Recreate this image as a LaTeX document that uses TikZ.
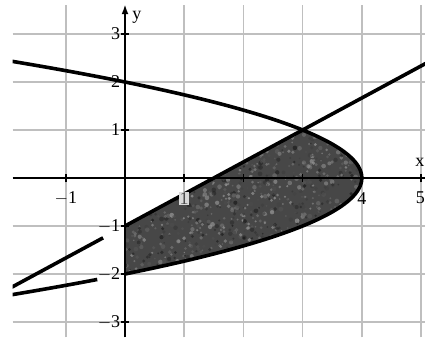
\documentclass[tikz,border=0pt]{standalone}
\usepackage{fontspec}
\setmainfont{Liberation Serif}
\usetikzlibrary{arrows.meta}
\begin{document}
\begin{tikzpicture}[x=59.2pt,y=48pt,
  gridline/.style={draw=black!25, line width=1.6pt},
  axisline/.style={line width=2.2pt},
  curve/.style={line width=3.6pt},
  lbl/.style={font=\fontsize{18}{18}\selectfont, inner sep=1pt},
  tck/.style={line width=1.6pt}]
\useasboundingbox (-2.1115,-3.3125) rectangle (5.0676,3.7083);
% grid
\foreach \i in {-1,1,2,3,4,5} \draw[gridline] (\i,-3.32) -- (\i,3.6);
\foreach \j in {-3,-2,-1,1,2,3} \draw[gridline] (-1.9,\j) -- (5.07,\j);
% shaded region
\begin{scope}
\clip (0,-1) -- (3,1) -- plot[domain=1:-2,samples=60,smooth] ({4-\x*\x},\x) -- cycle;
\fill[black!72] (-0.1,-2.1) rectangle (4.1,1.1);
\pgfmathsetseed{7}
\foreach \k in {1,...,1400} {
  \pgfmathsetmacro{\px}{4.1*rnd}
  \pgfmathsetmacro{\py}{-2.1+3.2*rnd}
  \pgfmathsetmacro{\pc}{30+65*rnd}
  \pgfmathsetmacro{\pr}{0.8+1.6*rnd}
  \fill[black!\pc, opacity=0.55] (\px,\py) circle[radius=\pr pt];
}
\end{scope}
% axes
\coordinate (xl) at (-1.9,0);
\coordinate (xr) at (5.07,0);
\coordinate (yb) at (0,-3.32);
\coordinate (yt) at (0,3.62);
\draw[axisline] (xl) -- (xr);
\draw[axisline,-{Latex[length=10pt,width=7pt]}] (yb) -- (yt);
\foreach \i in {-1,1,2,3,4,5} \draw[tck] (\i,-0.09) -- (\i,0.09);
\foreach \j in {-3,-2,-1,1,2,3} \draw[tck] (-0.075,\j) -- (0.075,\j);
% curves
\begin{scope}
\clip (-1.9,-3.4) rectangle (5.1,3.8);
\draw[curve] plot[domain=-2.0:-0.37,samples=2] (\x,{2*\x/3-1});
\draw[curve] plot[domain=0:5.1,samples=2] (\x,{2*\x/3-1});
\draw[curve] plot[domain=2.46:-2,samples=120,smooth] ({4-\x*\x},\x);
\draw[curve] plot[domain=-2.114:-2.46,samples=30,smooth] ({4-\x*\x},\x);
\end{scope}
% labels
\node[lbl] (xm1) at (-1,-0.42) {$-$1};
\node[lbl,fill=black!15,text=black!70,inner sep=0.5pt] (x1) at (1,-0.42) {1};
\node[lbl] (x4) at (4,-0.42) {4};
\node[lbl] (x5) at (4.99,-0.42) {5};
\node[lbl,anchor=east] (y3) at (-0.06,3) {3};
\node[lbl,anchor=east] (y2) at (-0.06,2) {2};
\node[lbl,anchor=east] (y1) at (-0.06,1) {1};
\node[lbl,anchor=east] (ym1) at (-0.06,-1) {$-$1};
\node[lbl,anchor=east] (ym2) at (-0.06,-2) {$-$2};
\node[lbl,anchor=east] (ym3) at (-0.06,-3) {$-$3};
\node[lbl] (ylab) at (0.2,3.34) {y};
\node[lbl] (xlab) at (4.98,0.33) {x};
\end{tikzpicture}
\end{document}
